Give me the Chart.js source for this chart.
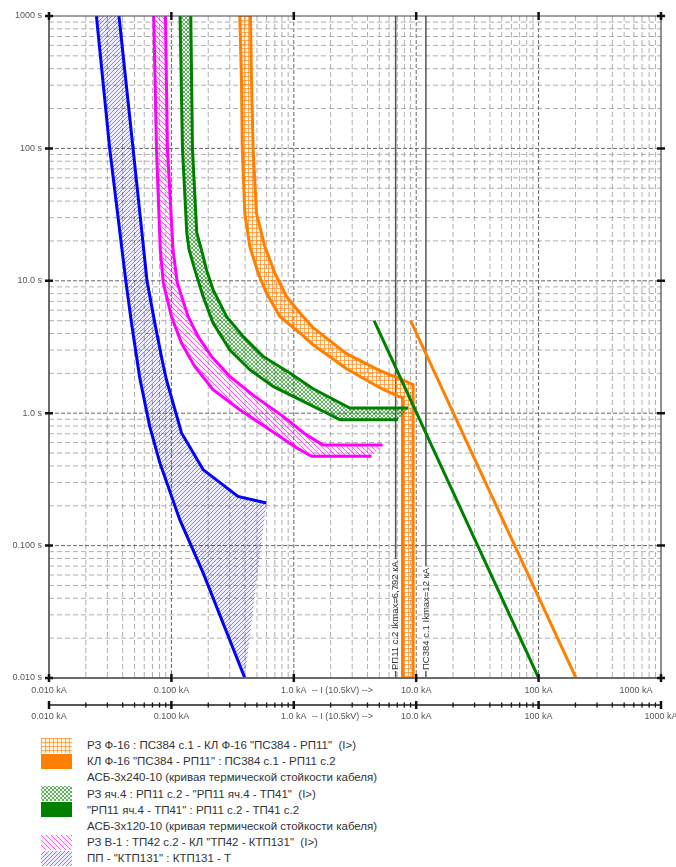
<!DOCTYPE html>
<html>
<head>
<meta charset="utf-8">
<script src="https://cdn.jsdelivr.net/npm/chart.js@4.4.1/dist/chart.umd.min.js"></script>
<style>
  body { margin: 0; background: #fff; }
  #wrap { position: relative; width: 676px; height: 867px; overflow: hidden; font-family: "Liberation Sans", Arial, Helvetica, sans-serif; }
  #c { position: absolute; left: 0; top: 0; }
  .tx { position: absolute; left: 87px; white-space: pre; font-size: 11.5px; line-height: 16px; color: #333; }
</style>
</head>
<body>
<div id="wrap">
  <canvas id="c" width="676" height="732"></canvas>
  <div id="legend"></div>
</div>
<script>
// ---------------- DATA ----------------
const X_DECADES = [0.01, 0.1, 1, 10, 100, 1000];
const X_LABELS = ['0.010 kA', '0.100 kA', '1.0 kA', '10.0 kA', '100 kA', '1000 kA'];
const Y_LABELS = ['0.010 s', '0.100 s', '1.0 s', '10.0 s', '100 s', '1000 s'];
const X_AXIS_TITLE = '-- I (10.5kV) -->';

// ПП - "КТП131" (blue band)
const blueLeftI  = [0.0244, 0.0313, 0.0424, 0.0472, 0.0551, 0.0665, 0.0804, 0.117, 0.182, 0.398];
const blueLeftT  = [1000, 100, 10, 4.8, 1.85, 0.795, 0.423, 0.157, 0.062, 0.01];
const blueRightI = [0.0373, 0.0486, 0.0632, 0.0731, 0.0839, 0.0911, 0.121, 0.1815, 0.35, 0.598];
const blueRightT = [1000, 100, 10, 4.83, 2.53, 1.79, 0.709, 0.375, 0.235, 0.21];
const blueEdgeI  = [0.398, 0.498, 0.598];
const blueEdgeT  = [0.01, 0.0553, 0.21];

// РЗ В-1 (magenta band)
const magLowI = [0.0717, 0.0755, 0.0811, 0.0858, 0.1001, 0.1208, 0.1551, 0.219, 0.362, 0.637, 1.019, 1.395, 4.32];
const magLowT = [1000, 100, 17.2, 9.67, 5.38, 3.39, 2.257, 1.504, 1.063, 0.75, 0.558, 0.472, 0.472];
const magUpI  = [0.0894, 0.0928, 0.1031, 0.1116, 0.1368, 0.1651, 0.2125, 0.2998, 0.48, 0.8175, 1.23, 1.735, 5.31];
const magUpT  = [1000, 100, 17.2, 9.67, 5.38, 3.80, 2.685, 1.897, 1.339, 0.946, 0.70, 0.575, 0.575];

// РЗ яч.4 (green band)
const grnLowI = [0.1177, 0.1231, 0.1335, 0.1394, 0.1552, 0.1815, 0.219, 0.2998, 0.4369, 0.6772, 1.119, 1.851, 2.377, 7.12];
const grnLowT = [1000, 100, 23.1, 17.2, 12.13, 7.62, 4.80, 3.017, 2.13, 1.594, 1.265, 1.003, 0.893, 0.893];
const grnUpI  = [0.144, 0.1486, 0.1611, 0.176, 0.1934, 0.219, 0.2818, 0.3851, 0.5613, 0.9275, 1.438, 2.869, 8.59];
const grnUpT  = [1000, 100, 23.1, 17.2, 12.13, 8.57, 5.38, 3.80, 2.685, 2.012, 1.53, 1.095, 1.095];

// РЗ Ф-16 (orange band)
const orgLowI = [0.362, 0.3737, 0.3794, 0.3977, 0.4369, 0.5108, 0.598, 0.7686, 1.119, 1.438, 1.969, 2.696, 5.046, 7.12, 7.73, 7.73];
const orgLowT = [1000, 330, 100, 32.5, 18.2, 11.45, 8.09, 5.38, 4.035, 3.29, 2.671, 2.168, 1.558, 1.339, 1.32, 0.01];
const orgUpI  = [0.4426, 0.4512, 0.4651, 0.4955, 0.5794, 0.6993, 0.8716, 1.119, 1.438, 1.969, 2.696, 5.046, 7.35, 9.44, 9.44];
const orgUpT  = [1000, 330, 100, 32.5, 18.2, 11.45, 7.62, 5.74, 4.42, 3.53, 2.814, 2.094, 1.822, 1.642, 0.01];

// Cable thermal withstand lines
const cab240I = [9.0, 202];
const cab240T = [5.0, 0.01];
const cab120I = [4.53, 100];
const cab120T = [5.0, 0.01];

// Ikmax markers
const IKMAX_VALUES = [6.792, 12];
const IKMAX_LABELS = ['РП11 с.2 Ikmax=6,792 кА', 'ПС384 с.1 Ikmax=12 кА'];

// Legend
const LEGEND_LABELS = [
  'РЗ Ф-16 : ПС384 с.1 - КЛ Ф-16 "ПС384 - РП11"  (I>)',
  'КЛ Ф-16 "ПС384 - РП11" : ПС384 с.1 - РП11 с.2',
  'АСБ-3х240-10 (кривая термической стойкости кабеля)',
  'РЗ яч.4 : РП11 с.2 - "РП11 яч.4 - ТП41"  (I>)',
  '"РП11 яч.4 - ТП41" : РП11 с.2 - ТП41 с.2',
  'АСБ-3х120-10 (кривая термической стойкости кабеля)',
  'РЗ В-1 : ТП42 с.2 - КЛ "ТП42 - КТП131"  (I>)',
  'ПП - "КТП131" : КТП131 - Т'
];
const LEGEND_SWATCHES = ['grid', 'orange', null, 'check', 'green', null, 'back', 'fwd'];

// ---------------- STYLE ----------------
const FONT = "'Liberation Sans', Arial, Helvetica, sans-serif";
const C = { orange: '#FF8000', green: '#008000', magenta: '#FF00FF', blue: '#0000FF' };

function makeTile(kind) {
  const c = document.createElement('canvas');
  const n = { grid: 4, check: 4, back: 5, fwd: 4 }[kind];
  c.width = c.height = n;
  const g = c.getContext('2d');
  const px = (x, y, col) => { g.fillStyle = col; g.fillRect(x, y, 1, 1); };
  if (kind === 'grid') {
    g.fillStyle = 'rgba(255,128,0,0.08)'; g.fillRect(0, 0, n, n);
    g.fillStyle = 'rgba(255,140,30,0.7)'; g.fillRect(0, 0, n, 1); g.fillRect(0, 0, 1, n);
  } else if (kind === 'check') {
    g.fillStyle = 'rgba(0,128,0,0.06)'; g.fillRect(0, 0, n, n);
    for (let i = 0; i < n; i++) { px(i, i, 'rgba(0,128,0,0.6)'); px(i, n - 1 - i, 'rgba(0,128,0,0.6)'); }
  } else if (kind === 'back') {
    g.fillStyle = 'rgba(255,0,255,0.06)'; g.fillRect(0, 0, n, n);
    for (let i = 0; i < n; i++) px(i, i, 'rgba(255,0,255,0.65)');
  } else {
    g.fillStyle = 'rgba(0,0,255,0.07)'; g.fillRect(0, 0, n, n);
    for (let i = 0; i < n; i++) px(i, n - 1 - i, 'rgba(30,30,255,0.5)');
  }
  return c;
}

const zip = (I, T) => I.map((v, i) => ({ x: v, y: T[i] }));
const rev = a => a.slice().reverse();

const canvas = document.getElementById('c');
const ctx = canvas.getContext('2d');
const pat = k => ctx.createPattern(makeTile(k), 'repeat');

function strokeDs(data, color, w) {
  return { data, borderColor: color, borderWidth: w, fill: false, pointRadius: 0, pointHoverRadius: 0, tension: 0 };
}
function fillDs(data, bg) {
  return { data, borderColor: 'rgba(0,0,0,0)', borderWidth: 1, backgroundColor: bg, fill: 'shape', pointRadius: 0, pointHoverRadius: 0, tension: 0 };
}

// first dataset is drawn on top
const datasets = [
  strokeDs(zip(cab120I, cab120T), C.green, 3),
  strokeDs(zip(cab240I, cab240T), C.orange, 3),
  strokeDs(zip(blueLeftI, blueLeftT), C.blue, 3),
  strokeDs(zip(blueRightI, blueRightT), C.blue, 3),
  fillDs(zip(blueLeftI, blueLeftT).concat(zip(blueEdgeI, blueEdgeT), rev(zip(blueRightI, blueRightT))), pat('fwd')),
  strokeDs(zip(magLowI, magLowT), C.magenta, 3),
  strokeDs(zip(magUpI, magUpT), C.magenta, 3),
  fillDs(zip(magLowI, magLowT).concat(rev(zip(magUpI, magUpT))), pat('back')),
  strokeDs(zip(grnLowI, grnLowT), C.green, 3),
  strokeDs(zip(grnUpI, grnUpT), C.green, 3),
  fillDs(zip(grnLowI, grnLowT).concat(rev(zip(grnUpI, grnUpT))), pat('check')),
  strokeDs(zip(orgLowI, orgLowT), C.orange, 3),
  strokeDs(zip(orgUpI, orgUpT), C.orange, 3),
  fillDs(zip(orgLowI, orgLowT).concat(rev(zip(orgUpI, orgUpT))), pat('grid'))
];

function decadeIndex(v) {
  const l = Math.log10(v);
  const r = Math.round(l);
  if (Math.abs(l - r) > 1e-6) return -1;
  return X_DECADES.findIndex(d => Math.abs(Math.log10(d) - r) < 1e-6);
}

const tickFont = { family: FONT, size: 9 };

const framePlugin = {
  id: 'frame',
  beforeDatasetsDraw(chart) {
    const { ctx: g, chartArea: a } = chart;
    const xs = chart.scales.x, ys = chart.scales.y;
    g.save();
    g.lineWidth = 1;
    for (let e = -2; e <= 2; e++) {
      for (let m = 1; m <= 9; m++) {
        const v = m * Math.pow(10, e);
        if (e === -2 && m === 1) continue;
        const major = m === 1;
        g.strokeStyle = major ? 'rgba(85,85,85,0.9)' : 'rgba(160,160,160,0.85)';
        g.setLineDash(major ? [4, 2] : [5, 3]);
        const px = xs.getPixelForValue(v);
        const py = ys.getPixelForValue(v);
        g.beginPath();
        g.moveTo(px, a.top); g.lineTo(px, a.bottom);
        g.moveTo(a.left, py); g.lineTo(a.right, py);
        g.stroke();
      }
    }
    g.setLineDash([]);
    g.font = '9.5px ' + FONT;
    g.fillStyle = '#333';
    g.strokeStyle = '#555';
    g.lineWidth = 1.5;
    IKMAX_VALUES.forEach((v, i) => {
      const px = xs.getPixelForValue(v);
      const yb = a.bottom - 8;
      const w = g.measureText(IKMAX_LABELS[i]).width;
      g.beginPath();
      g.moveTo(px, a.top); g.lineTo(px, yb - w - 2);
      g.moveTo(px, yb + 1); g.lineTo(px, a.bottom);
      g.stroke();
      g.save();
      g.translate(px, yb);
      g.rotate(-Math.PI / 2);
      g.textAlign = 'left';
      g.textBaseline = 'middle';
      g.fillText(IKMAX_LABELS[i], 0, 0);
      g.restore();
    });
    g.restore();
  },
  afterDraw(chart) {
    const { ctx: g, chartArea: a } = chart;
    const xs = chart.scales.x, ys = chart.scales.y;
    g.save();
    g.strokeStyle = '#6a6a6a';
    g.lineWidth = 2;
    g.beginPath();
    g.moveTo(a.left, a.top); g.lineTo(a.left, a.bottom); g.lineTo(a.right, a.bottom);
    g.stroke();
    g.strokeStyle = '#444';
    g.lineWidth = 1.2;
    g.beginPath();
    g.moveTo(a.left, a.top); g.lineTo(a.right, a.top); g.lineTo(a.right, a.bottom);
    g.stroke();
    g.strokeStyle = '#111';
    g.lineWidth = 2.5;
    g.beginPath();
    X_DECADES.forEach(v => {
      const px = xs.getPixelForValue(v);
      const py = ys.getPixelForValue(v);
      g.moveTo(px, a.top - 4); g.lineTo(px, a.top + 4);
      g.moveTo(px, a.bottom - 4); g.lineTo(px, a.bottom + 4);
      g.moveTo(a.left - 4, py); g.lineTo(a.left + 4, py);
      g.moveTo(a.right - 4, py); g.lineTo(a.right + 4, py);
    });
    g.stroke();
    // secondary current axis
    const y2 = a.bottom + 27;
    g.strokeStyle = '#555';
    g.lineWidth = 2;
    g.beginPath(); g.moveTo(a.left, y2); g.lineTo(a.right, y2); g.stroke();
    g.strokeStyle = '#111';
    for (let e = -2; e <= 3; e++) {
      for (let m = 1; m <= 9; m++) {
        const v = m * Math.pow(10, e);
        if (v > 1000.0001) break;
        const px = xs.getPixelForValue(v);
        const major = m === 1;
        g.lineWidth = major ? 2.5 : 1.3;
        const h = major ? 4 : 2.5;
        g.beginPath(); g.moveTo(px, y2 - h); g.lineTo(px, y2 + h); g.stroke();
      }
    }
    g.font = '9px ' + FONT;
    g.fillStyle = '#555';
    g.textAlign = 'left';
    g.textBaseline = 'middle';
    const tx = xs.getPixelForValue(1) + 18;
    g.fillText(X_AXIS_TITLE, tx, a.bottom + 12.7);
    g.fillText(X_AXIS_TITLE, tx, a.bottom + 38.7);
    g.restore();
  }
};

new Chart(ctx, {
  type: 'line',
  data: { datasets },
  options: {
    responsive: false,
    animation: false,
    events: [],
    layout: { padding: { top: 16, right: 15, left: 0, bottom: 0 } },
    plugins: { legend: { display: false }, tooltip: { enabled: false }, filler: { propagate: false } },
    scales: {
      x: {
        type: 'logarithmic', position: 'bottom', min: 0.01, max: 1000, weight: 0,
        grid: { display: false, drawTicks: false }, border: { display: false },
        ticks: {
          autoSkip: false, maxRotation: 0, minRotation: 0, padding: 7, color: '#555', font: tickFont,
          callback: v => { const i = decadeIndex(v); return i < 0 ? '' : (i === 5 ? X_LABELS[i] + ' '.repeat(20) : X_LABELS[i]); }
        },
        afterFit: s => { s.height = 20; s.paddingLeft = 0; s.paddingRight = 0; s.paddingTop = 0; s.paddingBottom = 0; }
      },
      x2: {
        type: 'logarithmic', axis: 'x', position: 'bottom', min: 0.01, max: 1000, weight: 1,
        grid: { display: false, drawTicks: false }, border: { display: false },
        ticks: {
          autoSkip: false, maxRotation: 0, minRotation: 0, padding: 13, color: '#555', font: tickFont,
          callback: v => { const i = decadeIndex(v); return i < 0 ? '' : X_LABELS[i]; }
        },
        afterFit: s => { s.height = 34; s.paddingLeft = 0; s.paddingRight = 0; s.paddingTop = 0; s.paddingBottom = 0; }
      },
      y: {
        type: 'logarithmic', position: 'left', min: 0.01, max: 1000,
        grid: { display: false, drawTicks: false }, border: { display: false },
        ticks: {
          autoSkip: false, padding: 7, color: '#555', font: tickFont,
          callback: v => { const i = decadeIndex(v); return i < 0 ? '' : Y_LABELS[i]; }
        },
        afterFit: s => { s.width = 49; s.paddingTop = 0; s.paddingBottom = 0; s.paddingLeft = 0; s.paddingRight = 0; }
      }
    }
  },
  plugins: [framePlugin]
});

// ---------------- LEGEND ----------------
const legendEl = document.getElementById('legend');
LEGEND_LABELS.forEach((txt, i) => {
  const cy = 745 + i * 16.2;
  const sw = LEGEND_SWATCHES[i];
  if (sw) {
    const cv = document.createElement('canvas');
    cv.width = 31; cv.height = 15;
    cv.style.cssText = 'position:absolute;left:41px;top:' + Math.round(cy - 7.5) + 'px;';
    const g = cv.getContext('2d');
    if (sw === 'orange') g.fillStyle = C.orange;
    else if (sw === 'green') g.fillStyle = C.green;
    else g.fillStyle = g.createPattern(makeTile(sw), 'repeat');
    g.fillRect(0, 0, 31, 15);
    legendEl.appendChild(cv);
  }
  const t = document.createElement('div');
  t.className = 'tx';
  t.style.top = Math.round(cy - 8) + 'px';
  t.textContent = txt;
  legendEl.appendChild(t);
});
</script>
</body>
</html>
